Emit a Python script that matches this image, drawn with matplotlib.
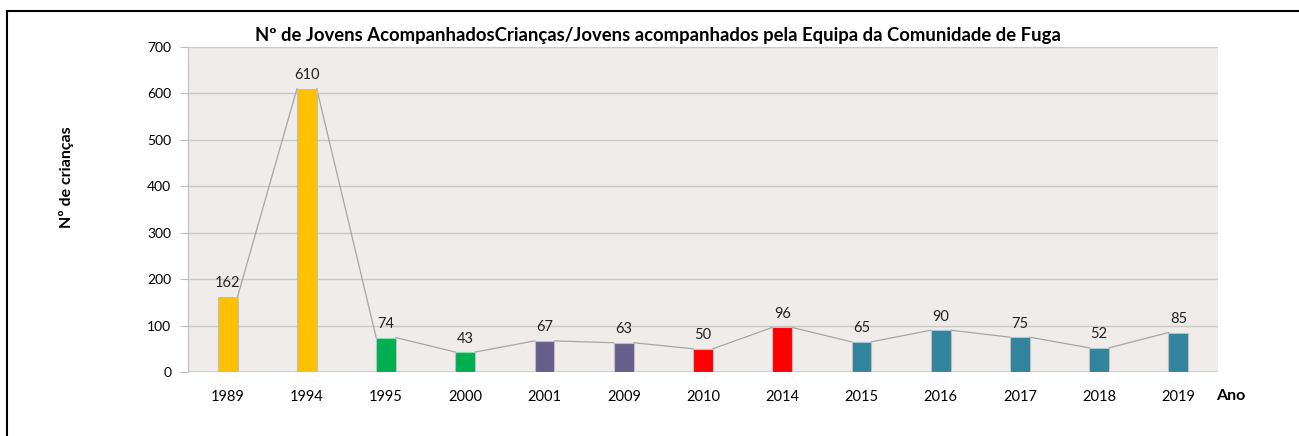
import matplotlib.pyplot as plt
from matplotlib.patches import Rectangle

anos = ['1989', '1994', '1995', '2000', '2001', '2009', '2010', '2014', '2015', '2016', '2017', '2018', '2019']
criancas = [162, 610, 74, 43, 67, 63, 50, 96, 65, 90, 75, 52, 85]
cores = ['#FFC000', '#FFC000', '#00B050', '#00B050', '#665F8C', '#665F8C',
         '#FF0000', '#FF0000', '#31849B', '#31849B', '#31849B', '#31849B', '#31849B']

plt.rcParams['font.family'] = ['Lato', 'DejaVu Sans']

W, H = 1299, 436
fig = plt.figure(figsize=(W / 100, H / 100), dpi=100)
ax = fig.add_axes([188 / W, 1 - 372 / H, (1218 - 188) / W, (372 - 47) / H])
ax.set_facecolor('#EFECEA')

largura = 0.25
x = list(range(len(anos)))
ax.bar(x, criancas, width=largura, color=cores, edgecolor='#BFBFBF', linewidth=0.8, zorder=3)

# linhas entre os topos das barras
for i in range(len(x) - 1):
    ax.plot([x[i] + largura / 2, x[i + 1] - largura / 2], [criancas[i], criancas[i + 1]],
            color='#A6A6A6', lw=0.9, zorder=2)

for i, v in enumerate(criancas):
    ax.text(x[i], v + 14, str(v), ha='center', va='bottom', fontsize=10.5, color='#222222', zorder=4)

ax.set_xlim(-0.5, len(anos) - 0.5)
ax.set_ylim(0, 700)
ax.set_yticks(range(0, 701, 100))
ax.set_xticks(x)
ax.set_xticklabels(anos, fontsize=10.5)
ax.tick_params(axis='y', labelsize=10, length=6, color='#BFBFBF', pad=6)
ax.tick_params(axis='x', length=0, pad=13)
ax.grid(axis='y', color='#C9C9C9', lw=1, zorder=0)
for s in ['top', 'right', 'bottom']:
    ax.spines[s].set_visible(False)
ax.spines['left'].set_color('#BFBFBF')
ax.axhline(0, color='#C9C9C9', lw=1.2, zorder=1)

fig.text(658 / W, 1 - 35 / H, 'Nº de Jovens AcompanhadosCrianças/Jovens acompanhados pela Equipa da Comunidade de Fuga',
         ha='center', va='center', fontsize=13.3, fontweight='bold')
fig.text(66 / W, 1 - 177 / H, 'Nº de crianças', rotation=90, ha='center', va='center',
         fontsize=11.5, fontweight='bold')
fig.text(1231 / W, 1 - 396 / H, 'Ano', ha='center', va='center', fontsize=11.5, fontweight='bold')

fig.patches.append(Rectangle((7 / W, -0.1), 1.2, 1 - 11 / H + 0.1, transform=fig.transFigure,
                             fill=False, edgecolor='black', lw=1.5))

fig.savefig('out.png', dpi=100)
